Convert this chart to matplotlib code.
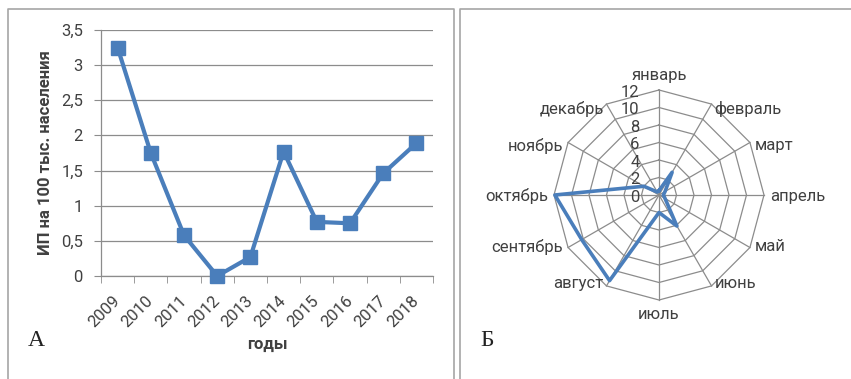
import numpy as np
import matplotlib
matplotlib.use('Agg')
from matplotlib import pyplot as plt
from matplotlib.lines import Line2D
from matplotlib.ticker import FuncFormatter

years = ['2009', '2010', '2011', '2012', '2013', '2014', '2015', '2016', '2017', '2018']
incidence = [3.25, 1.75, 0.58, 0.0, 0.27, 1.77, 0.77, 0.75, 1.46, 1.89]

months = ['январь', 'февраль', 'март', 'апрель', 'май', 'июнь',
          'июль', 'август', 'сентябрь', 'октябрь', 'ноябрь', 'декабрь']
month_counts = [0.5, 3.0, 0.8, 0.5, 0.8, 4.1, 2.0, 11.3, 10.2, 11.9, 2.0, 0.4]
radar_ticks = [0, 2, 4, 6, 8, 10, 12]

line_color = '#4a7ebb'
grid_color = '#8c8c8c'
text_color = '#404040'
W, H = 851, 379

plt.rcParams['font.family'] = ['Roboto', 'DejaVu Sans']
plt.rcParams['font.size'] = 12
plt.rcParams['text.color'] = text_color

fig = plt.figure(figsize=(W / 100, H / 100), dpi=100)

# panel frames
def fig_line(xs, ys):
    fig.add_artist(Line2D([x / W for x in xs], [1 - y / H for y in ys],
                          transform=fig.transFigure, color='#a6a6a6', lw=1.2))

fig_line([7.5, 7.5, 453.5, 453.5], [H, 9, 9, H])
fig_line([459.5, 459.5, W], [H, 9, 9])

# --- A: line chart ---
ax = fig.add_axes([101 / W, 1 - 276 / H, 332 / W, 246 / H])
x = np.arange(len(years))
ax.plot(x, incidence, color=line_color, lw=3, marker='s', markersize=10.5,
        clip_on=False, zorder=3)
ax.set_xlim(-0.5, len(years) - 0.5)
ax.set_ylim(0, 3.5)
ax.set_yticks(np.arange(0, 3.51, 0.5))
ax.yaxis.set_major_formatter(FuncFormatter(lambda v, p: f'{v:g}'.replace('.', ',')))
ax.set_xticks(x)
ax.set_xticklabels(years, rotation=45, ha='right', va='center', rotation_mode='anchor')
ax.set_xticks(np.arange(-0.5, len(years)), minor=True)
ax.tick_params(axis='x', which='major', length=0, pad=16, colors=text_color)
ax.tick_params(axis='x', which='minor', length=5, color=grid_color, direction='out')
ax.tick_params(axis='y', length=5, pad=8, colors=text_color)
ax.tick_params(axis='y', color=grid_color)
ax.grid(axis='y', color=grid_color, lw=0.9)
ax.set_axisbelow(True)
for s in ['top', 'right']:
    ax.spines[s].set_visible(False)
for s in ['left', 'bottom']:
    ax.spines[s].set_color(grid_color)
    ax.spines[s].set_linewidth(0.9)
ax.set_ylabel('ИП на 100 тыс. населения', fontweight='bold', color=text_color)
ax.yaxis.set_label_coords(-0.145, 0.5)
ax.set_xlabel('годы', fontweight='bold', color=text_color)
ax.xaxis.set_label_coords(0.5, -0.25)

fig.text(36 / W, 1 - 340 / H, 'А', family='Liberation Serif', fontsize=17,
         color='#222222', ha='center', va='center')
fig.text(487 / W, 1 - 340 / H, 'Б', family='Liberation Serif', fontsize=17,
         color='#222222', ha='center', va='center')

# --- Б: radar chart ---
rax = fig.add_axes([554 / W, 1 - 300 / H, 210 / W, 210 / H], projection='polar')
rax.set_theta_zero_location('N')
rax.set_theta_direction(-1)
rax.set_ylim(0, radar_ticks[-1])
rax.grid(False)
rax.set_xticks([])
rax.set_yticks([])
rax.spines['polar'].set_visible(False)
rax.patch.set_visible(False)

angles = np.linspace(0, 2 * np.pi, len(months), endpoint=False)
closed = np.append(angles, angles[0])
for r in radar_ticks[1:]:
    rax.plot(closed, [r] * len(closed), color=grid_color, lw=0.9, clip_on=False)
for a in angles:
    rax.plot([a, a], [0, radar_ticks[-1]], color=grid_color, lw=0.9, clip_on=False)

rax.plot(closed, month_counts + month_counts[:1], color=line_color, lw=2.6,
         clip_on=False, zorder=3)

for r in radar_ticks:
    rax.annotate(str(r), xy=(0, r), xytext=(-14, -1.5), textcoords='offset points',
                 ha='right', va='center', color=text_color, zorder=4)

for a, name in zip(angles, months):
    s, c = np.sin(a), np.cos(a)
    if abs(s) < 0.01:
        ha = 'center'
        va = 'bottom' if c > 0 else 'top'
        dx, dy = 0, (5 if c > 0 else -5)
    else:
        ha = 'left' if s > 0 else 'right'
        va = 'center'
        dx, dy = 4.2 * s, -3 * c - 1
    rax.annotate(name, xy=(a, radar_ticks[-1]), xytext=(dx, dy),
                 textcoords='offset points', ha=ha, va=va, color=text_color)

fig.savefig('out.png', dpi=100)
